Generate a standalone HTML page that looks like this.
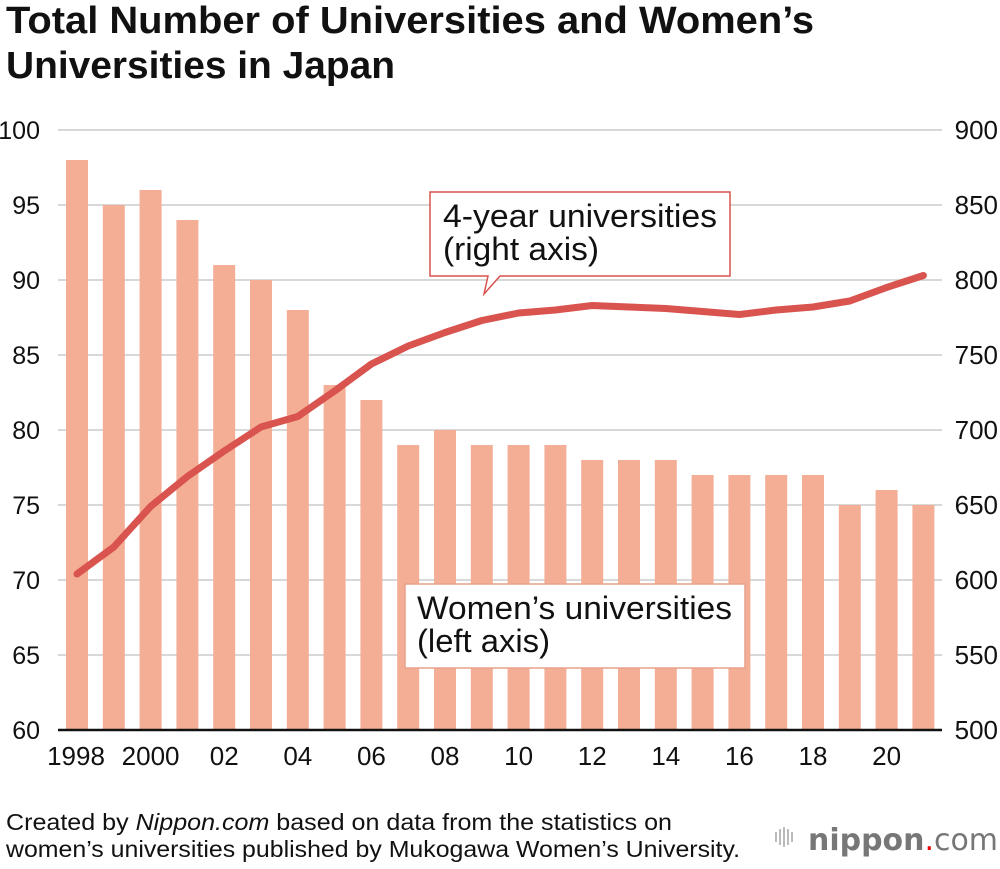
<!DOCTYPE html>
<html><head><meta charset="utf-8"><style>
body{margin:0;background:#fff;width:1000px;height:864px;overflow:hidden;font-family:"Liberation Sans",Arial,sans-serif}
</style></head><body>
<svg width="1000" height="864" xmlns="http://www.w3.org/2000/svg">
<text x="6" y="33" font-size="38" font-weight="bold" fill="#111" textLength="808" lengthAdjust="spacingAndGlyphs">Total Number of Universities and Women’s</text>
<text x="6" y="78" font-size="38" font-weight="bold" fill="#111" textLength="389" lengthAdjust="spacingAndGlyphs">Universities in Japan</text>
<g id="grid"></g><g id="bars"></g><g id="line"></g><g id="axes"></g>
<g>
<path d="M430,192 H730 V276 H500 L484,294 L488,276 H430 Z" fill="#fff" stroke="#d9534f" stroke-width="1.5"/>
<text x="443" y="227" font-size="32" fill="#111" textLength="274" lengthAdjust="spacingAndGlyphs">4-year universities</text>
<text x="443" y="260" font-size="32" fill="#111" textLength="156" lengthAdjust="spacingAndGlyphs">(right axis)</text>
</g>
<g>
<rect x="405" y="584" width="340" height="84" fill="#fff" stroke="#e8a08a" stroke-width="1.5"/>
<text x="417" y="619" font-size="32" fill="#111" textLength="315" lengthAdjust="spacingAndGlyphs">Women’s universities</text>
<text x="417" y="652" font-size="32" fill="#111" textLength="133" lengthAdjust="spacingAndGlyphs">(left axis)</text>
</g>
<text x="6" y="830" font-size="23" fill="#111" textLength="666" lengthAdjust="spacingAndGlyphs">Created by <tspan font-style="italic">Nippon.com</tspan> based on data from the statistics on</text>
<text x="6" y="857" font-size="23" fill="#111" textLength="734" lengthAdjust="spacingAndGlyphs">women’s universities published by Mukogawa Women’s University.</text>
<g>
<g fill="#bbb"><rect x="775" y="832" width="2" height="10"/><rect x="779" y="829" width="2" height="16"/><rect x="783" y="827" width="2" height="20"/><rect x="787" y="829" width="2" height="16"/><rect x="791" y="832" width="2" height="10"/></g>
<text x="808" y="850" font-size="30" fill="#777" font-family="DejaVu Sans,sans-serif" textLength="190" lengthAdjust="spacingAndGlyphs"><tspan font-weight="bold">nippon</tspan><tspan fill="#e00">.</tspan>com</text>
</g>
</svg>
<script>
const years=[1998,1999,2000,2001,2002,2003,2004,2005,2006,2007,2008,2009,2010,2011,2012,2013,2014,2015,2016,2017,2018,2019,2020,2021];
const womens=[98,95,96,94,91,90,88,83,82,79,80,79,79,79,78,78,78,77,77,77,77,75,76,75];
const total=[604,622,649,669,686,702,709,726,744,756,765,773,778,780,783,782,781,779,777,780,782,786,795,803];
const leftTicks=[60,65,70,75,80,85,90,95,100];
const rightTicks=[500,550,600,650,700,750,800,850,900];
const xLabels=["1998","","2000","","02","","04","","06","","08","","10","","12","","14","","16","","18","","20",""];
const NS="http://www.w3.org/2000/svg";
const x=i=>77+i*36.8, yL=v=>730-(v-60)*15, yR=v=>730-(v-500)*1.5;
function mk(t,a,p){const e=document.createElementNS(NS,t);for(const k in a)e.setAttribute(k,a[k]);document.getElementById(p).appendChild(e);return e;}
leftTicks.forEach((v,i)=>{
 const l=mk('line',{x1:58,x2:942,y1:yL(v),y2:yL(v),stroke:i==0?'#111':'#ccc','stroke-width':i==0?2.5:1.5},i==0?'line':'grid');
 
 
 const t=mk('text',{x:40,y:yL(v)+9,'font-size':25,fill:'#111','text-anchor':'end'},'axes');t.textContent=v;
 
 
 const r=mk('text',{x:998,y:yR(rightTicks[i])+9,'font-size':26,fill:'#111','text-anchor':'end'},'axes');r.textContent=rightTicks[i];
 
 
});
womens.forEach((v,i)=>{
 const b=mk('rect',{x:x(i)-11,y:yL(v),width:22,height:730-yL(v),fill:'#f4ae96'},'bars');
 
 
 if(xLabels[i]){const t=mk('text',{x:x(i)+(i==0?-1:0),y:765,'font-size':26,fill:'#111','text-anchor':'middle'},'axes');t.textContent=xLabels[i];
 
 }
});
const p=mk('polyline',{points:total.map((v,i)=>x(i)+','+yR(v)).join(' '),fill:'none',stroke:'#d9534f','stroke-width':7,'stroke-linejoin':'round','stroke-linecap':'round'},'line');


</script>
</body></html>
